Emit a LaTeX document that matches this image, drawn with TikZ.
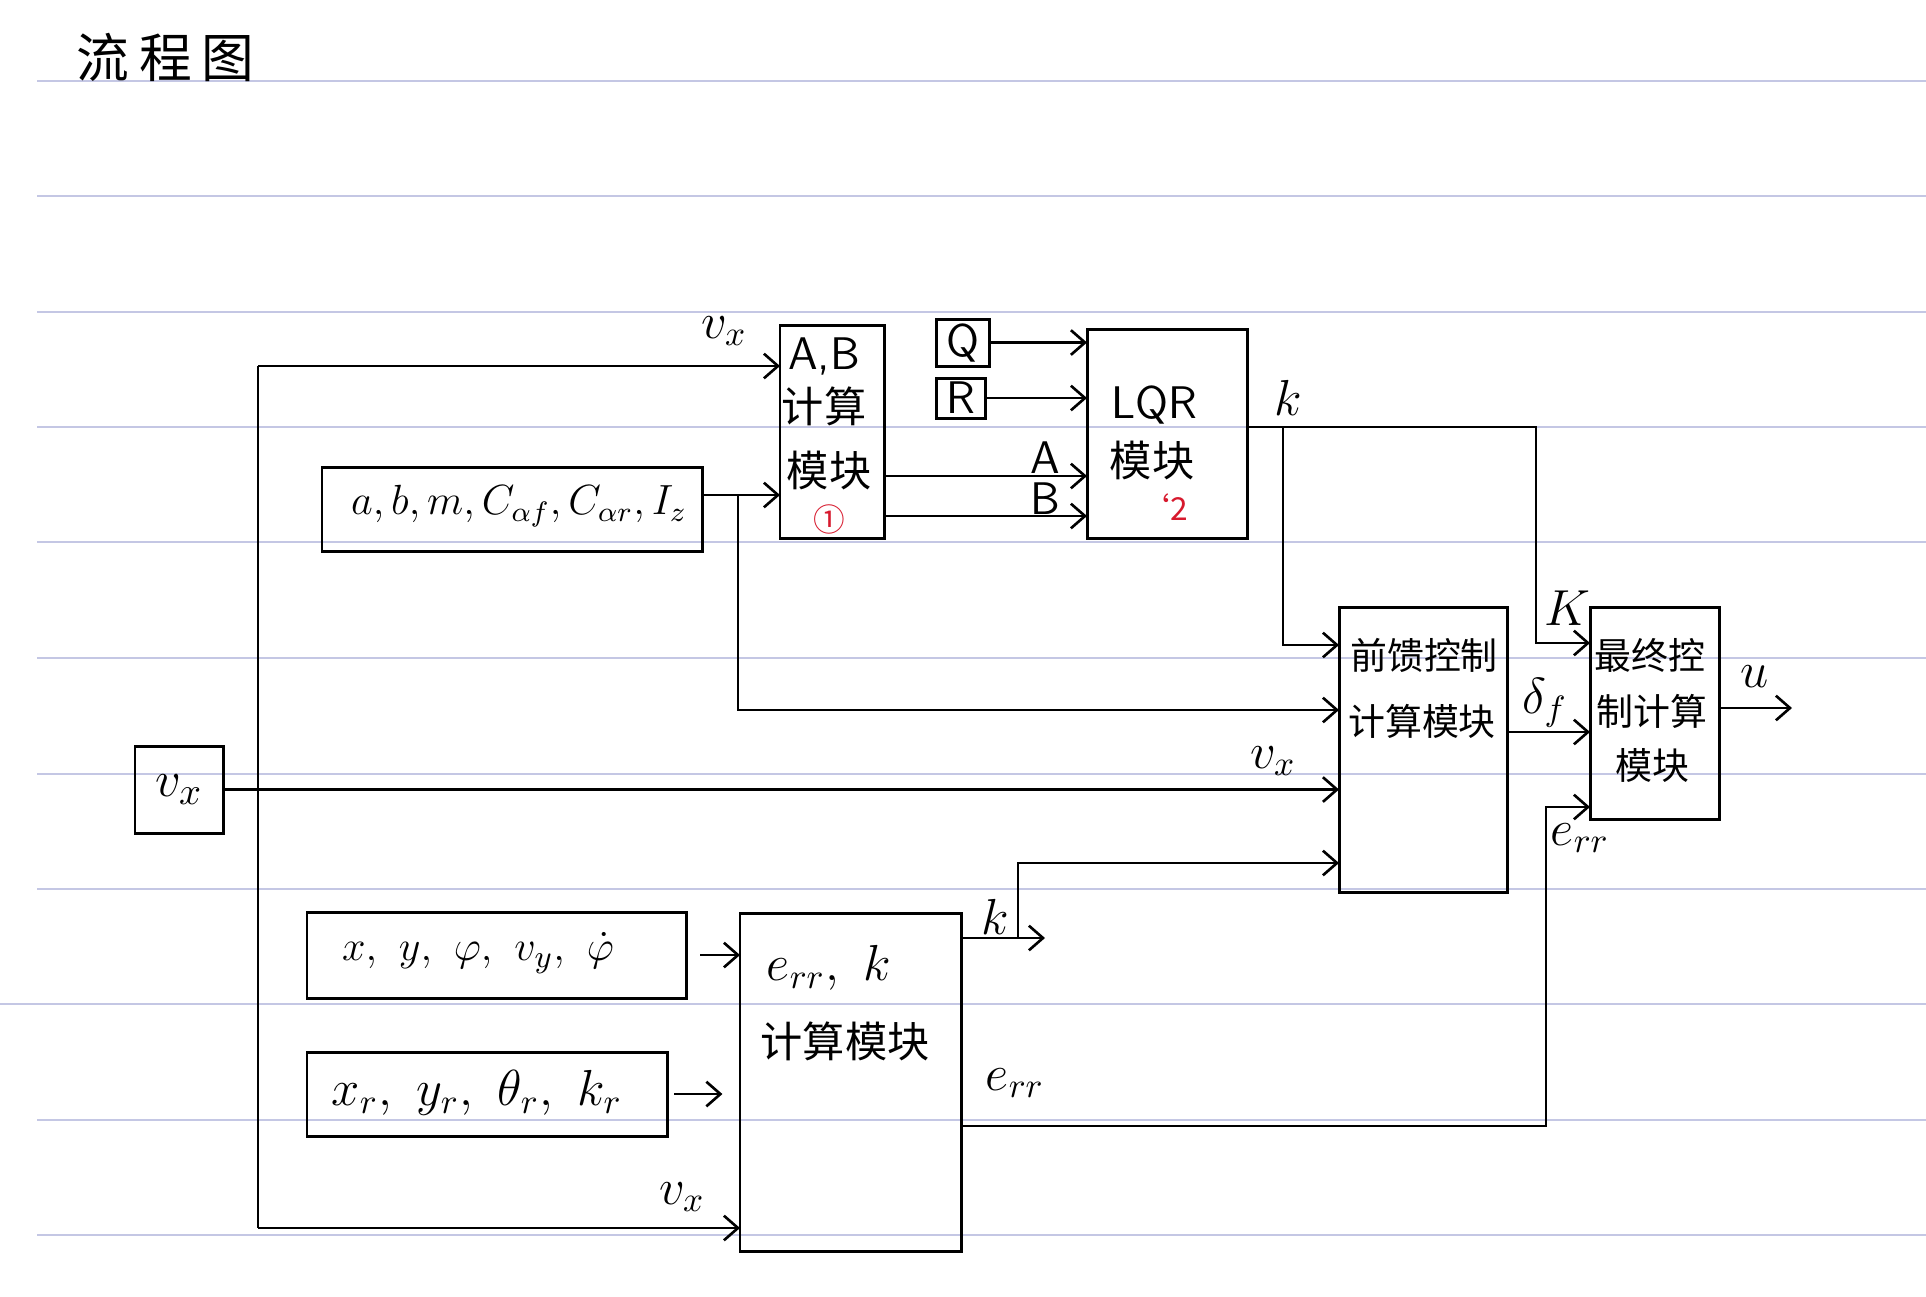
\documentclass[tikz,border=0pt]{standalone}
\usepackage{fontspec}
\newfontfamily\cjk{Noto Sans CJK SC}
\usetikzlibrary{arrows.meta}
\definecolor{ruled}{RGB}{196,199,228}
\definecolor{redmark}{RGB}{215,25,45}
\tikzset{
  box/.style={draw, line width=0.85pt, inner sep=0pt, outer sep=0pt, anchor=north west},
  wire/.style={line width=0.75pt},
  lab/.style={inner sep=1pt, font=\fontsize{14}{16}\selectfont},
  slab/.style={inner sep=1pt, font=\sffamily\fontsize{13}{15}\selectfont},
  cn/.style={inner sep=0pt, font=\cjk\fontsize{12}{14}\selectfont},
  cns/.style={inner sep=0pt, font=\cjk\fontsize{10.5}{12}\selectfont},
  redtxt/.style={inner sep=0pt, text=redmark, font=\cjk\fontsize{9}{10}\selectfont},
  >={Straight Barb[length=4pt,width=7pt]},
}
\begin{document}
\begin{tikzpicture}[x=0.01cm,y=-0.01cm]
\useasboundingbox (0,0) rectangle (1926,1296);
\fill[white] (0,0) rectangle (1926,1296);
% ruled paper lines
\foreach \yy in {81,196,312,427,542,658,774,889,1120,1235}
  \draw[ruled, line width=0.6pt] (37,\yy) -- (1926,\yy);
\draw[ruled, line width=0.6pt] (0,1004) -- (1926,1004);

% title
\node[inner sep=0pt, anchor=west, font=\cjk\fontsize{15}{18}\selectfont] (title) at (76,57) {流\hspace{2.8pt}程\hspace{2.8pt}图};

% boxes
\node[box, minimum width=3.80cm, minimum height=0.84cm] (abm) at (322,467) {};
\node[lab, font=\fontsize{12}{14}\selectfont] (abmt) at (519,506) {$a,b,m,C_{\alpha f},C_{\alpha r},I_z$};

\node[box, minimum width=1.04cm, minimum height=2.13cm] (AB) at (780,325) {};
\node[slab, font=\sffamily\fontsize{13}{15}\selectfont] (ABt1) at (824,356) {A,B};
\node[cn] (ABt2) at (824,406) {计算};
\node[cn] (ABt3) at (829,470) {模块};
\node[redtxt] (ABt4) at (829,519) {①};

\node[box, minimum width=0.53cm, minimum height=0.47cm, font=\sffamily\fontsize{13}{15}\selectfont] (Q) at (936,319) {Q};
\node[box, minimum width=0.49cm, minimum height=0.40cm, font=\sffamily\fontsize{13}{15}\selectfont] (R) at (936,378) {R};

\node[box, minimum width=1.60cm, minimum height=2.09cm] (LQR) at (1087,329) {};
\node[slab] (LQRt1) at (1154,405) {LQR};
\node[cn] (LQRt2) at (1152,460) {模块};
\node[redtxt] (LQRt3) at (1163,507) {‘2};

\node[box, minimum width=1.68cm, minimum height=2.85cm] (FF) at (1339,607) {};
\node[cns] (FFt1) at (1424,655) {前馈控制};
\node[cns] (FFt2) at (1422,721) {计算模块};

\node[box, minimum width=1.29cm, minimum height=2.12cm] (FIN) at (1590,607) {};
\node[cns] (FINt1) at (1650,655) {最终控};
\node[cns] (FINt2) at (1652,711) {制计算};
\node[cns] (FINt3) at (1652,765) {模块};

\node[box, minimum width=0.88cm, minimum height=0.87cm, font=\fontsize{15}{17}\selectfont] (VX) at (135,746) {$v_x$};

\node[box, minimum width=3.79cm, minimum height=0.86cm] (XY) at (307,912) {};
\node[lab, font=\fontsize{13}{15}\selectfont] (XYt) at (478,953) {$x,\ y,\ \varphi,\ v_y,\ \dot{\varphi}$};

\node[box, minimum width=3.60cm, minimum height=0.84cm] (XR) at (307,1052) {};
\node[lab] (XRt) at (477,1093) {$x_r,\ y_r,\ \theta_r,\ k_r$};

\node[box, minimum width=2.21cm, minimum height=3.38cm] (ERR) at (740,913) {};
\node[lab] (ERRt1) at (829,968) {$e_{rr},\ k$};
\node[cn] (ERRt2) at (845,1041) {计算模块};

% connector helper coordinates
\coordinate (vtop) at (258,366);
\coordinate (vbot) at (258,1228);
\coordinate (abmo) at (702,495);
\coordinate (br1) at (738,495);
\coordinate (kj) at (1283,427);
\coordinate (kc) at (1536,427);
\coordinate (uend) at (1792,708);
\coordinate (kend) at (1045,938);
\coordinate (kb) at (1018,938);
\coordinate (ec) at (1546,1126);

% v_x distribution
\draw[wire] (vtop) -- (vbot);
\draw[wire,->] (vtop) -- (AB.west |- vtop);
\draw[wire,->] (vbot) -- (ERR.west |- vbot);
\draw[wire,->] (VX.east) -- (FF.west |- VX.east);
\node[lab] (lvx1) at (724,331) {$v_x$};
\node[lab] (lvx2) at (682,1197) {$v_x$};
\node[lab] (lvx3) at (1273,761) {$v_x$};

% parameters
\draw[wire,->] (abmo) -- (AB.west |- abmo);
\draw[wire,->] (br1) |- (FF.west |- 0,710);

% A, B, Q, R into LQR
\draw[wire,->] (AB.east |- 0,476) -- (LQR.west |- 0,476);
\draw[wire,->] (AB.east |- 0,516) -- (LQR.west |- 0,516);
\node[slab] (lA) at (1045,458) {A};
\node[slab] (lB) at (1045,499) {B};
\draw[wire,->] (Q.east) -- (LQR.west |- Q.east);
\draw[wire,->] (R.east) -- (LQR.west |- R.east);

% LQR output k
\draw[wire,->] (LQR.east |- kc) -- (kc) |- (FIN.west |- 0,643);
\draw[wire,->] (kj) |- (FF.west |- 0,645);
\node[lab] (lk1) at (1288,398) {$k$};
\node[lab] (lk2) at (1567,608) {$K$};

% feedforward output
\draw[wire,->] (FF.east |- 0,732) -- (FIN.west |- 0,732);
\node[lab] (ldf) at (1545,703) {$\delta_f$};
\draw[wire,->] (FIN.east |- uend) -- (uend);
\node[lab] (lu) at (1755,677) {$u$};

% err,k block inputs
\draw[wire,->, shorten <=4pt] (XY.east) -- (ERR.west |- XY.east);
\draw[wire,->, shorten <=2pt, shorten >=5pt] (XR.east) -- (ERR.west |- XR.east);

% err,k block outputs
\draw[wire,->] (ERR.east |- kend) -- (kend);
\draw[wire,->] (kb) |- (FF.west |- 0,863);
\node[lab] (lk3) at (995,917) {$k$};
\draw[wire,->] (ERR.east |- ec) -- (ec) |- (FIN.west |- 0,807);
\node[lab] (le1) at (1015,1083) {$e_{rr}$};
\node[lab] (le2) at (1580,838) {$e_{rr}$};
\end{tikzpicture}
\end{document}
